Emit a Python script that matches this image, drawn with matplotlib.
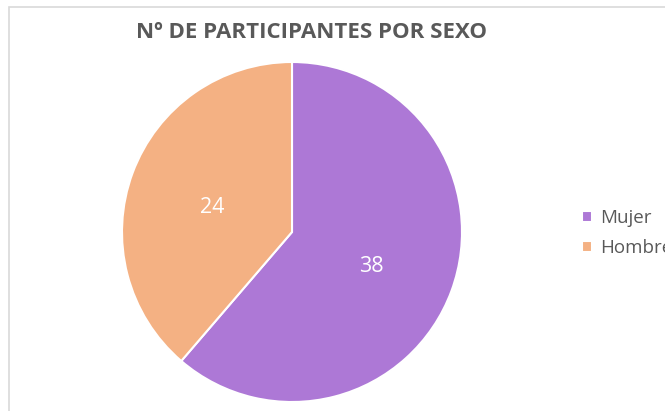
import matplotlib
matplotlib.use("Agg")
import matplotlib.pyplot as plt
from matplotlib.patches import Rectangle
import numpy as np

categories = ["Mujer", "Hombre"]
values = [38, 24]
colors = ["#AD78D6", "#F4B183"]
title = "Nº DE PARTICIPANTES POR SEXO"

W, H = 665, 411
fig = plt.figure(figsize=(W / 100, H / 100), dpi=100)
fig.patch.set_facecolor("white")

# chart area border (extends beyond right/bottom edges)
fig.patches.append(Rectangle((9 / W, -0.1), 1.2, 1.1 - 7 / H,
                             transform=fig.transFigure, fill=False,
                             edgecolor="#D9D9D9", linewidth=1.2))

r = 170
cx, cy = 292, 232
ax = fig.add_axes([(cx - r) / W, (H - cy - r) / H, 2 * r / W, 2 * r / H])
wedges, texts = ax.pie(values, colors=colors, startangle=90, counterclock=False,
                       wedgeprops=dict(edgecolor="white", linewidth=1.5),
                       radius=1.0)
ax.set_xlim(-1, 1)
ax.set_ylim(-1, 1)
ax.set_aspect("equal")

# value labels
total = sum(values)
ang = 90
for w, v in zip(wedges, values):
    span = 360 * v / total
    mid = np.deg2rad(ang - span / 2)
    ax.text(0.5 * np.cos(mid), 0.5 * np.sin(mid) - 0.03, str(v), ha="center", va="center",
            color="white", fontsize=15.5, family="Open Sans")
    ang -= span

fig.text(312 / W, 1 - 32 / H, title, ha="center", va="center", fontsize=16,
         fontweight="bold", color="#595959", family="Open Sans")

leg = fig.legend(wedges, categories, loc="center left",
                 bbox_to_anchor=(574 / W, 1 - 233 / H), frameon=False,
                 prop=dict(family="Open Sans", size=13.5), labelcolor="#595959",
                 handlelength=0.55, handleheight=0.55, handletextpad=0.45,
                 labelspacing=0.65, borderaxespad=0)

fig.savefig("out.png", dpi=100)
